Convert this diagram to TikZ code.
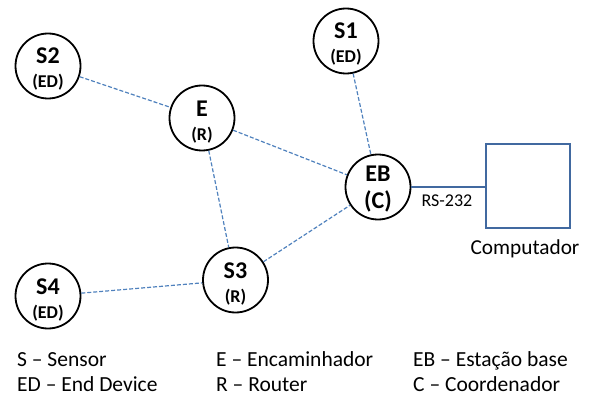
\documentclass[tikz,border=0pt]{standalone}
\usepackage{fontspec}
\setmainfont{Carlito}
\definecolor{linkblue}{RGB}{79,129,189}
\definecolor{boxblue}{RGB}{65,105,160}
\tikzset{
  dev/.style={circle,draw=black,line width=1.8pt,minimum size=65pt,inner sep=0pt},
  devname/.style={anchor=base,inner sep=0pt,font=\fontsize{24}{24}\selectfont\bfseries},
  devrole/.style={anchor=base,inner sep=0pt,font=\fontsize{18}{18}\selectfont\bfseries},
  link/.style={draw=linkblue,line width=1.2pt,dash pattern=on 4pt off 2pt},
  serial/.style={draw=boxblue,line width=2pt},
  legend/.style={anchor=base west,inner sep=0pt,font=\fontsize{21.5}{22}\selectfont},
}
\begin{document}
\begin{tikzpicture}[x=1pt,y=-1pt]
\useasboundingbox (0,0) rectangle (590,396);
\node[dev] (S2) at (48,66) {};
\node[devname] (S2a) at (48,64) {S2};
\node[devrole] (S2b) at (48,88) {(ED)};
\node[dev] (E) at (202,118) {};
\node[devname] (Ea) at (202,116.5) {E};
\node[devrole] (Eb) at (202,140) {(R)};
\node[dev] (S1) at (346,41) {};
\node[devname] (S1a) at (346,39) {S1};
\node[devrole] (S1b) at (346,63) {(ED)};
\node[dev] (EB) at (378,187) {};
\node[devname] (EBa) at (378,181.5) {EB};
\node[devname] (EBb) at (378,208) {(C)};
\node[dev] (S3) at (235.5,280) {};
\node[devname] (S3a) at (235.5,278) {S3};
\node[devrole] (S3b) at (235.5,302) {(R)};
\node[dev] (S4) at (48,296) {};
\node[devname] (S4a) at (48,294) {S4};
\node[devrole] (S4b) at (48,318) {(ED)};
\node[draw=boxblue,line width=1.8pt,minimum size=84pt,inner sep=0pt] (PC) at (528,186) {};
\node[anchor=base,font=\fontsize{21.3}{21}\selectfont,inner sep=0pt] (PClbl) at (525,254) {Computador};
\draw[link] (S2) -- (E);
\draw[link] (E) -- (EB);
\draw[link] (E) -- (S3);
\draw[link] (S1) -- (EB);
\draw[link] (S3) -- (EB);
\draw[link] (S4) -- (S3);
\draw[serial] (EB.east) -- (PC.west |- EB.east);
\node[anchor=base,font=\fontsize{18}{18}\selectfont,inner sep=0pt] (rs) at (447,207) {RS-232};
\node[legend] (l1) at (17,366) {S – Sensor};
\node[legend] (l2) at (17,391) {ED – End Device};
\node[legend] (l3) at (216,366) {E – Encaminhador};
\node[legend] (l4) at (216,391) {R – Router};
\node[legend] (l5) at (413,366) {EB – Estação base};
\node[legend] (l6) at (413,391) {C – Coordenador};
\end{tikzpicture}
\end{document}
